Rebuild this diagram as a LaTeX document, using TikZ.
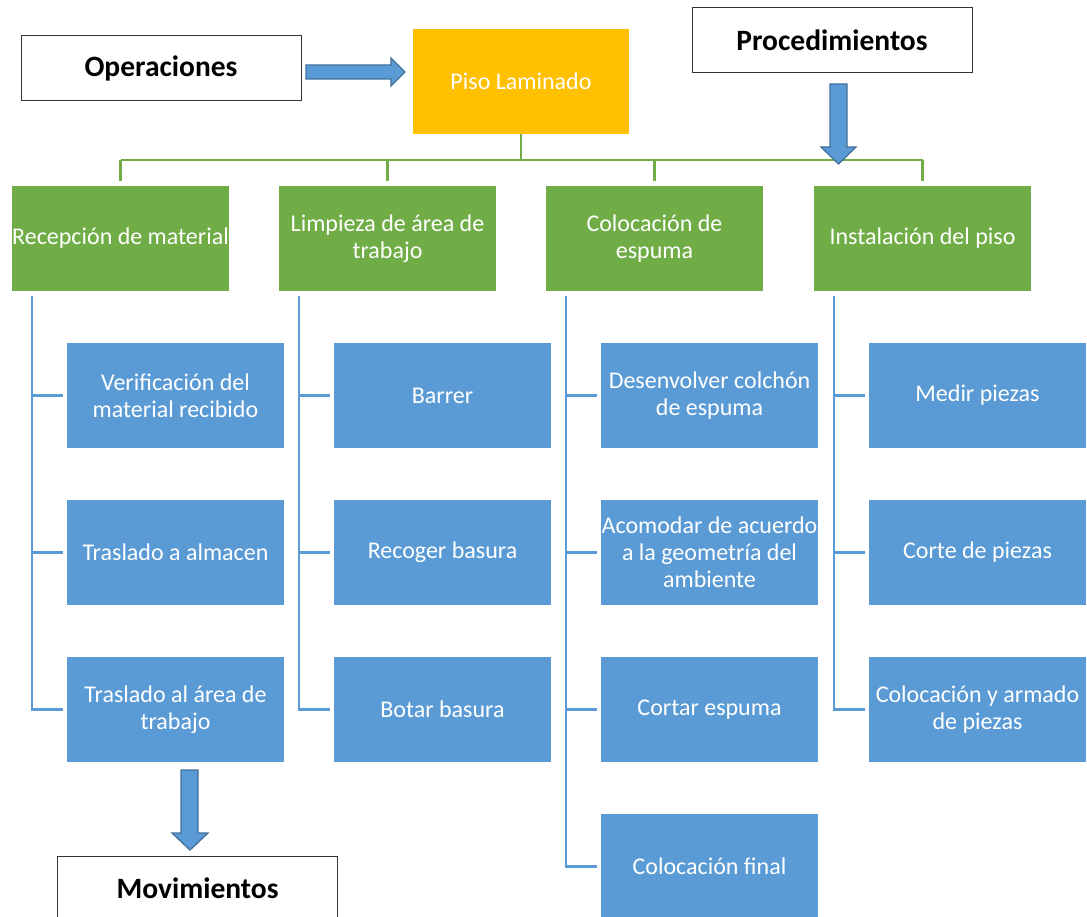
\documentclass[tikz,border=0pt]{standalone}
\usepackage{fontspec}
\setmainfont{Carlito}
\definecolor{accgreen}{HTML}{70AD47}
\definecolor{accblue}{HTML}{5B9BD5}
\definecolor{accblueedge}{HTML}{41719C}
\definecolor{accorange}{HTML}{FFC000}
\begin{document}
\begin{tikzpicture}[x=1pt,y=-1pt,
  every node/.style={inner sep=0pt, align=center},
  labelbox/.style={draw=black!80, line width=1pt, fill=white,
    minimum width=280, minimum height=65,
    font=\fontsize{29.5}{34}\selectfont\bfseries},
  rootbox/.style={fill=accorange, text=white, minimum width=216, minimum height=105,
    font=\fontsize{24}{27}\selectfont},
  headbox/.style={fill=accgreen, text=white, minimum width=217, minimum height=105,
    font=\fontsize{24}{27}\selectfont},
  taskbox/.style={fill=accblue, text=white, minimum width=217, minimum height=105,
    font=\fontsize{24}{27}\selectfont},
  gline/.style={draw=accgreen, line width=2.3pt},
  bline/.style={draw=accblue, line width=2.3pt},
  blockarrow/.style={fill=accblue, draw=accblueedge, line width=1.3pt, line join=miter}
]
\useasboundingbox (0,0) rectangle (1087,917);
\clip (0,0) rectangle (1087,917);

% top level
\node[labelbox] (op)   at (161,68.5)  {Operaciones};
\node[rootbox]  (piso) at (521,81.5)  {Piso Laminado};
\node[labelbox] (proc) at (832,40.5)  {Procedimientos};

% phases
\node[headbox] (h1) at (120.5,238.5) {Recepción de material};
\node[headbox] (h2) at (387.5,238.5) {Limpieza de área de\\trabajo};
\node[headbox] (h3) at (654.5,238.5) {Colocación de\\espuma};
\node[headbox] (h4) at (922.5,238.5) {Instalación del piso};

% tasks
\node[taskbox] (t11) at (175.5,395.5) {Verificación del\\material recibido};
\node[taskbox] (t12) at (175.5,552.5) {Traslado a almacen};
\node[taskbox] (t13) at (175.5,709.5) {Traslado al área de\\trabajo};

\node[taskbox] (t21) at (442.5,395.5) {Barrer};
\node[taskbox] (t22) at (442.5,552.5) {Recoger basura};
\node[taskbox] (t23) at (442.5,709.5) {Botar basura};

\node[taskbox] (t31) at (709.5,395.5) {Desenvolver colchón\\de espuma};
\node[taskbox] (t32) at (709.5,552.5) {Acomodar de acuerdo\\a la geometría del\\ambiente};
\node[taskbox] (t33) at (709.5,709.5) {Cortar espuma};
\node[taskbox] (t34) at (709.5,866.5) {Colocación final};

\node[taskbox] (t41) at (977.5,395.5) {Medir piezas};
\node[taskbox] (t42) at (977.5,552.5) {Corte de piezas};
\node[taskbox] (t43) at (977.5,709.5) {Colocación y armado\\de piezas};

\node[labelbox] (mov) at (197.5,888.5) {Movimientos};

% green tree bus
\coordinate (bus) at (0,160);
\draw[gline] (piso.south) -- (piso.south |- bus);
\draw[gline] (h1.north |- bus) -- (h4.north |- bus);
\foreach \h in {h1,h2,h3,h4}
  \draw[gline] ([yshift=5pt]\h.north) -- (\h.north |- bus);

% blue task spines
\foreach \h/\last in {h1/t13,h2/t23,h3/t34,h4/t43}
  \draw[bline] ([xshift=20pt,yshift=-5pt]\h.south west) coordinate (s\h)
    |- ([xshift=-4pt]\last.west);
\foreach \h/\t in {h1/t11,h1/t12,h2/t21,h2/t22,h3/t31,h3/t32,h3/t33,h4/t41,h4/t42}
  \draw[bline] ([xshift=-4pt]\t.west) -- (\t.west -| s\h);

% block arrows
\draw[blockarrow] (306,65) -- (391,65) -- (391,58) -- (405,72) -- (391,86)
  -- (391,79) -- (306,79) -- cycle;
\draw[blockarrow] (830,84) -- (847,84) -- (847,147) -- (856,147) -- (838.5,164)
  -- (821,147) -- (830,147) -- cycle;
\draw[blockarrow] (181,770) -- (198,770) -- (198,833) -- (208,833) -- (190,850)
  -- (172,833) -- (181,833) -- cycle;
\end{tikzpicture}
\end{document}
